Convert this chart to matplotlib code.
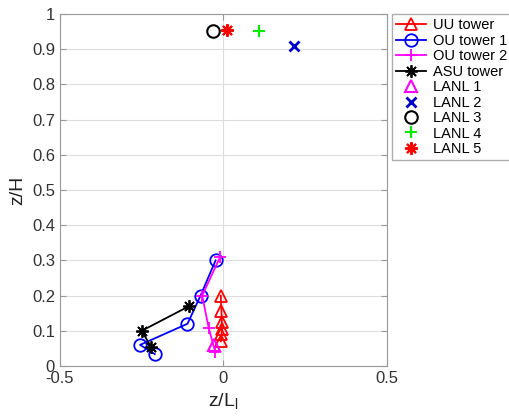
import matplotlib
matplotlib.use("Agg")
import matplotlib.pyplot as plt

plt.rcParams['font.family'] = ['Liberation Sans', 'DejaVu Sans']

# data
uu_x = [-0.008, -0.006, -0.005, -0.004, -0.006, -0.008]
uu_y = [0.20, 0.155, 0.125, 0.105, 0.09, 0.07]
ou1_x = [-0.024, -0.07, -0.11, -0.255, -0.21]
ou1_y = [0.30, 0.20, 0.12, 0.06, 0.034]
ou2_x = [-0.01, -0.065, -0.045, -0.025]
ou2_y = [0.31, 0.20, 0.108, 0.04]
asu_x = [-0.105, -0.25, -0.222]
asu_y = [0.17, 0.10, 0.055]
lanl1 = (-0.03, 0.06)
lanl2 = (0.215, 0.908)
lanl3 = (-0.033, 0.952)
lanl4 = (0.11, 0.952)
lanl5 = (0.012, 0.955)

x_ticks = [-0.5, 0, 0.5]
y_ticks = [0, 0.1, 0.2, 0.3, 0.4, 0.5, 0.6, 0.7, 0.8, 0.9, 1]
y_tick_labels = ['0', '0.1', '0.2', '0.3', '0.4', '0.5', '0.6', '0.7', '0.8', '0.9', '1']
x_tick_labels = ['-0.5', '0', '0.5']

fig = plt.figure(figsize=(5.1, 4.18), dpi=100)
ax = fig.add_axes([0.1176, 0.1244, 0.641, 0.8421])

ast = (8, 2, 0)
ms = 9
lw = 1.3
ax.plot(uu_x, uu_y, color='#ff0000', marker='^', ms=ms, mfc='none', lw=lw, mew=1.3, label='UU tower')
ax.plot(ou1_x, ou1_y, color='#0000ff', marker='o', ms=ms, mfc='none', lw=lw, mew=1.3, label='OU tower 1')
ax.plot(ou2_x, ou2_y, color='#ff00ff', marker='+', ms=ms, lw=lw, mew=1.3, label='OU tower 2')
ax.plot(asu_x, asu_y, color='black', marker=ast, ms=ms, lw=lw, mew=1.3, label='ASU tower')
ax.plot([lanl1[0]], [lanl1[1]], ls='none', color='#ff00ff', marker='^', ms=ms, mfc='none', mew=1.5, label='LANL 1')
ax.plot([lanl2[0]], [lanl2[1]], ls='none', color='#0000cc', marker='x', ms=7, mew=2, label='LANL 2')
ax.plot([lanl3[0]], [lanl3[1]], ls='none', color='black', marker='o', ms=ms, mfc='none', mew=1.5, label='LANL 3')
ax.plot([lanl4[0]], [lanl4[1]], ls='none', color='#00ee00', marker='+', ms=ms, mew=1.5, label='LANL 4')
ax.plot([lanl5[0]], [lanl5[1]], ls='none', color='#ff0000', marker=ast, ms=ms, mew=1.5, label='LANL 5')

ax.set_xlim(-0.5, 0.5)
ax.set_ylim(0, 1)
ax.set_xticks(x_ticks)
ax.set_xticklabels(x_tick_labels)
ax.set_yticks(y_ticks)
ax.set_yticklabels(y_tick_labels)
ax.grid(True, color='#dddddd', lw=0.8)
ax.set_axisbelow(True)
ax.tick_params(direction='in', length=4, color='#999999', labelsize=12, labelcolor='#333333',
               top=True, right=True)
for s in ax.spines.values():
    s.set_color('#999999')
ax.set_xlabel('z/L$_\\mathregular{l}$', fontsize=14, color='#222222', labelpad=4)
ax.set_ylabel('z/H', fontsize=14, color='#222222', labelpad=4)

leg = fig.legend(loc='upper left', bbox_to_anchor=(392/510, 1-14/418), fontsize=10.5,
                 frameon=True, fancybox=False, edgecolor='#999999', borderpad=0.3,
                 labelspacing=0.1, handlelength=2.0, handletextpad=0.5, borderaxespad=0)
leg.get_frame().set_linewidth(1)

fig.savefig('out.png', dpi=100)
